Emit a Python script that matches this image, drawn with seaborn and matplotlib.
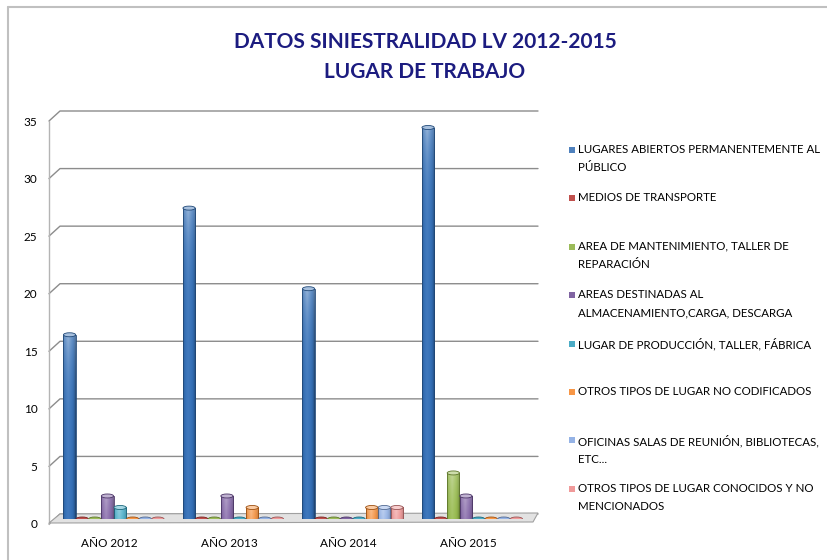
import numpy as np
import pandas as pd
import matplotlib
matplotlib.use("Agg")
import matplotlib.pyplot as plt
from matplotlib.patches import Ellipse, Polygon, Rectangle
from matplotlib.lines import Line2D
from matplotlib.colors import to_rgb, rgb_to_hsv, hsv_to_rgb
from matplotlib.transforms import ScaledTranslation
import seaborn as sns

# Data
years = ["AÑO 2012", "AÑO 2013", "AÑO 2014", "AÑO 2015"]
series = [
    "LUGARES ABIERTOS PERMANENTEMENTE AL\nPÚBLICO",
    "MEDIOS DE TRANSPORTE",
    "AREA DE MANTENIMIENTO, TALLER DE\nREPARACIÓN",
    "AREAS DESTINADAS AL\nALMACENAMIENTO,CARGA, DESCARGA",
    "LUGAR DE PRODUCCIÓN, TALLER, FÁBRICA",
    "OTROS TIPOS DE LUGAR NO CODIFICADOS",
    "OFICINAS SALAS DE REUNIÓN, BIBLIOTECAS,\nETC...",
    "OTROS TIPOS DE LUGAR CONOCIDOS Y NO\nMENCIONADOS",
]
lugares_abiertos = [16, 27, 20, 34]
medios_transporte = [0, 0, 0, 0]
area_mantenimiento = [0, 0, 0, 4]
areas_almacenamiento = [2, 2, 0, 2]
lugar_produccion = [1, 0, 0, 0]
otros_no_codificados = [0, 1, 1, 0]
oficinas = [0, 0, 1, 0]
otros_conocidos = [0, 0, 1, 0]
values = [lugares_abiertos, medios_transporte, area_mantenimiento,
          areas_almacenamiento, lugar_produccion, otros_no_codificados,
          oficinas, otros_conocidos]
colors = ["#4F81BD", "#C0504D", "#9BBB59", "#8064A2",
          "#4BACC6", "#F79646", "#95B3E6", "#F09A9A"]
y_ticks = list(range(0, 36, 5))

df = pd.DataFrame(
    [(y, s, v[i]) for s, v in zip(series, values) for i, y in enumerate(years)],
    columns=["year", "lugar", "casos"],
)

sns.set_theme(style="white")
plt.rcParams["font.family"] = ["Lato", "DejaVu Sans"]

W, H = 827, 560
fig = plt.figure(figsize=(W / 100, H / 100), dpi=100)
ax_l, ax_r, ax_b, ax_t = 54, 532, 519, 116
ax = fig.add_axes([ax_l / W, 1 - ax_b / H, (ax_r - ax_l) / W, (ax_b - ax_t) / H])
ypx = 35 / (ax_b - ax_t)          # data units per pixel


def P(x, y):
    """Pixel position (from top-left) to figure fraction."""
    return (x / W, 1 - y / H)


def ypix(t):
    return ax_b - t / ypx


sns.barplot(data=df, x="year", y="casos", hue="lugar", hue_order=series,
            order=years, palette=colors, width=0.845, gap=0.03, ax=ax,
            legend=False, saturation=1, edgecolor="none", linewidth=0,
            zorder=3)

ax.set_ylim(0, 35)
ax.set_xlim(-0.5, 3.5)
ax.set_yticks(y_ticks)
ax.set_xlabel("")
ax.set_ylabel("")
for side in ["top", "right", "bottom", "left"]:
    ax.spines[side].set_visible(False)
ax.tick_params(axis="y", labelsize=8.5, colors="#000000", length=0, pad=12)
ax.tick_params(axis="x", labelsize=8.5, colors="#000000", length=0, pad=14)

# Labels sit on the front edge of the box
for lab in ax.get_yticklabels():
    lab.set_transform(lab.get_transform()
                      + ScaledTranslation(0, -0.05, fig.dpi_scale_trans))
for lab in ax.get_xticklabels():
    lab.set_transform(lab.get_transform()
                      + ScaledTranslation(-0.04, 0, fig.dpi_scale_trans))

# Back wall gridlines, with slanted ends across the side wall
grid_col = "#8C8C8C"
for t in y_ticks:
    yb = ypix(t) - 5
    yf = ypix(t) + 5
    xs_, ys_ = zip(P(49, yf), P(60, yb), P(538, yb))
    ax.add_line(Line2D(xs_, ys_, transform=fig.transFigure, color=grid_col,
                       linewidth=1.0, clip_on=False, zorder=1))
xs_, ys_ = zip(P(49, ypix(35) + 5), P(49, ypix(0) + 5))
ax.add_line(Line2D(xs_, ys_, transform=fig.transFigure, color="#B4B4B4",
                   linewidth=1.0, clip_on=False, zorder=1))

# Floor of the chart
floor = Polygon([P(60, 514), P(538, 513), P(533, 522), P(49, 523)],
                closed=True, transform=fig.transFigure, facecolor="#E2E2E2",
                edgecolor="#A0A0A0", linewidth=0.8, zorder=1.5, clip_on=False)
ax.add_patch(floor)

# Cylinder shading on each bar
xs = np.linspace(0, 1, 40)
hl = np.clip(1 - np.abs(xs - 0.4) / 0.4, 0, 1) ** 1.2
edge = 1 - 0.45 * (np.abs(xs - 0.45) / 0.55) ** 4
for cont, col in zip(ax.containers, colors):
    base = np.array(to_rgb(col))
    hsv = rgb_to_hsv(base)
    body = hsv_to_rgb([hsv[0], min(1, hsv[1] * 1.25), hsv[2] * 0.97])
    light = base + (1 - base) * 0.5
    dark = body * 0.65
    for bar in cont:
        x0 = bar.get_x()
        w = bar.get_width()
        h = bar.get_height()
        if h > 0:
            npx = max(int(h / ypx), 2)
            rows = np.arange(npx)[:, None]
            v = np.exp(-rows / 36.0)
            a = 0.12 * hl[None, :] + 0.75 * v * (0.55 + 0.45 * hl[None, :])
            rgb = body[None, None, :] * edge[None, :, None]
            rgb = rgb * (1 - a[:, :, None]) + light[None, None, :] * a[:, :, None]
            im = ax.imshow(np.clip(rgb, 0, 1), extent=(x0, x0 + w, 0, h),
                           aspect="auto", zorder=3.5, interpolation="bilinear")
            im.set_clip_path(bar)
            bar.set_edgecolor(dark)
            bar.set_linewidth(0.6)
            bar.set_zorder(3.6)
            bar.set_facecolor("none")
        cap = Ellipse((x0 + w / 2, h), width=w, height=4 * ypx,
                      facecolor=light if h > 0 else base,
                      edgecolor=dark, linewidth=0.6, zorder=4)
        ax.add_patch(cap)
ax.set_xlim(-0.5, 3.5)
ax.set_ylim(0, 35)
ax.set_aspect("auto")

# Outer frame of the chart area
fig.add_artist(Line2D([8 / W, 1], [1 - 6.5 / H, 1 - 6.5 / H],
                      transform=fig.transFigure, color="#C0C0C0", linewidth=1.5))
fig.add_artist(Line2D([8 / W, 8 / W], [0, 1 - 6.5 / H],
                      transform=fig.transFigure, color="#C0C0C0", linewidth=1.5))

# Title
for txt, yp in [("DATOS SINIESTRALIDAD LV 2012-2015", 42),
                ("LUGAR DE TRABAJO", 72)]:
    fig.text(425 / W, 1 - yp / H, txt, ha="center", va="center",
             fontsize=15, fontweight="bold", color="#1C1C80")

# Legend
for i, (lab, col) in enumerate(zip(series, colors)):
    yp = 150 + i * 48.4
    fig.patches.append(Rectangle((569 / W, 1 - (yp + 3) / H), 6 / W, 6 / H,
                                 transform=fig.transFigure, facecolor=col,
                                 edgecolor="none"))
    fig.text(578 / W, 1 - (yp - 6) / H, lab, ha="left", va="top",
             fontsize=8.3, color="#000000", linespacing=1.75)

fig.savefig("out.png", dpi=100)
